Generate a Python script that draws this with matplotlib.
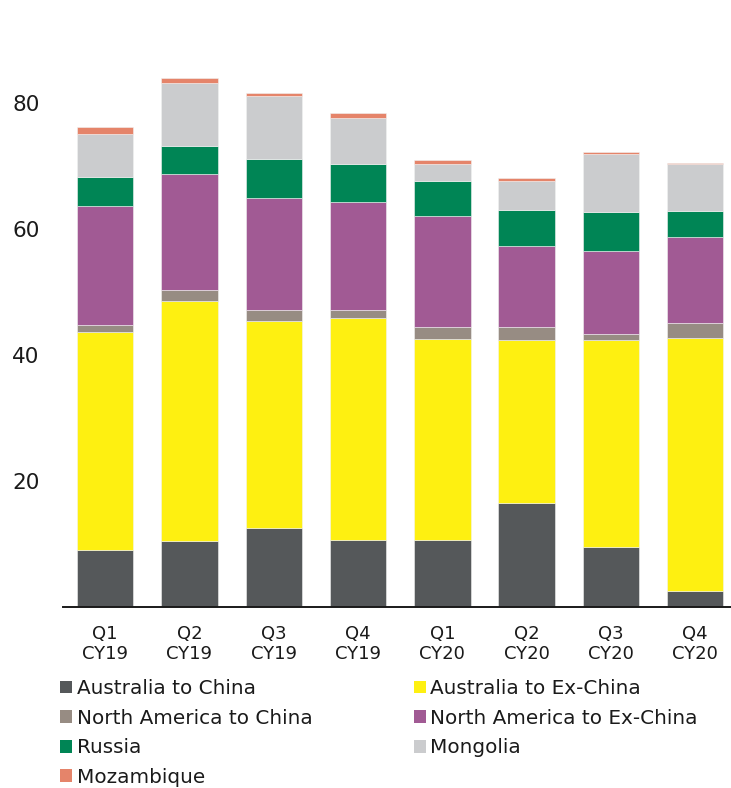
import matplotlib
matplotlib.use("Agg")
import matplotlib.pyplot as plt
import numpy as np
from matplotlib.patches import Patch

categories = ["Q1\nCY19", "Q2\nCY19", "Q3\nCY19", "Q4\nCY19",
              "Q1\nCY20", "Q2\nCY20", "Q3\nCY20", "Q4\nCY20"]

australia_to_china    = [9.0, 10.4, 12.5, 10.6, 10.5, 16.4, 9.5, 2.5]
australia_to_exchina  = [34.7, 38.1, 32.9, 35.2, 32.0, 26.0, 32.9, 40.2]
namerica_to_china     = [1.1, 1.8, 1.8, 1.4, 2.0, 2.1, 1.0, 2.4]
namerica_to_exchina   = [18.9, 18.5, 17.8, 17.1, 17.6, 12.8, 13.1, 13.7]
russia                = [4.6, 4.5, 6.2, 6.1, 5.5, 5.8, 6.3, 4.1]
mongolia              = [6.9, 10.0, 9.9, 7.3, 2.8, 4.6, 9.2, 7.4]
mozambique            = [1.1, 0.8, 0.5, 0.8, 0.6, 0.5, 0.3, 0.2]

yticks = [20, 40, 60, 80]

series = [
    ("Australia to China", australia_to_china, "#55585A"),
    ("Australia to Ex-China", australia_to_exchina, "#FEF011"),
    ("North America to China", namerica_to_china, "#978C83"),
    ("North America to Ex-China", namerica_to_exchina, "#A15A94"),
    ("Russia", russia, "#008555"),
    ("Mongolia", mongolia, "#CBCCCE"),
    ("Mozambique", mozambique, "#E5846A"),
]

W, H = 731, 788
fig = plt.figure(figsize=(W / 100, H / 100), dpi=100)
ax = fig.add_axes([63 / W, 181.5 / H, 674.4 / W, 566 / H])

x = np.arange(len(categories))
bottom = np.zeros(len(categories))
handles = {}
for name, vals, col in series:
    vals = np.array(vals)
    ax.bar(x, vals, width=0.67, bottom=bottom, color=col,
           edgecolor="#f2f2f2", linewidth=0.4, label=name, zorder=2)
    handles[name] = Patch(facecolor=col, edgecolor="none")
    bottom += vals

ax.set_xlim(-0.5, 7.5)
ax.set_ylim(0, 90)
ax.set_xticks(x)
ax.set_xticklabels(categories, fontsize=13, color="#1a1a1a", linespacing=1.15)
ax.set_yticks(yticks)
ax.set_yticklabels([str(t) for t in yticks], fontsize=15.5, color="#1a1a1a")
for lab in ax.get_yticklabels():
    lab.set_horizontalalignment("left")
ax.tick_params(axis="y", length=0, pad=36.7)
ax.tick_params(axis="x", length=0, pad=13)
for s in ["top", "right", "left"]:
    ax.spines[s].set_visible(False)
ax.spines["bottom"].set_linewidth(1.4)
ax.spines["bottom"].set_color("#1a1a1a")
ax.spines["bottom"].set_zorder(3)

col1 = ["Australia to China", "North America to China", "Russia", "Mozambique"]
col2 = ["Australia to Ex-China", "North America to Ex-China", "Mongolia"]
common = dict(frameon=False, fontsize=14.4, handlelength=0.6, handleheight=0.6,
              handletextpad=0.25, labelspacing=0.53, borderpad=0, borderaxespad=0,
              loc="upper left")
leg1 = fig.legend([handles[n] for n in col1], col1,
                  bbox_to_anchor=(60 / W, 1 - 679 / H), **common)
leg2 = fig.legend([handles[n] for n in col2], col2,
                  bbox_to_anchor=(413.5 / W, 1 - 679 / H), **common)
for lg in (leg1, leg2):
    for t in lg.get_texts():
        t.set_color("#1a1a1a")

fig.savefig("out.png", dpi=100)
